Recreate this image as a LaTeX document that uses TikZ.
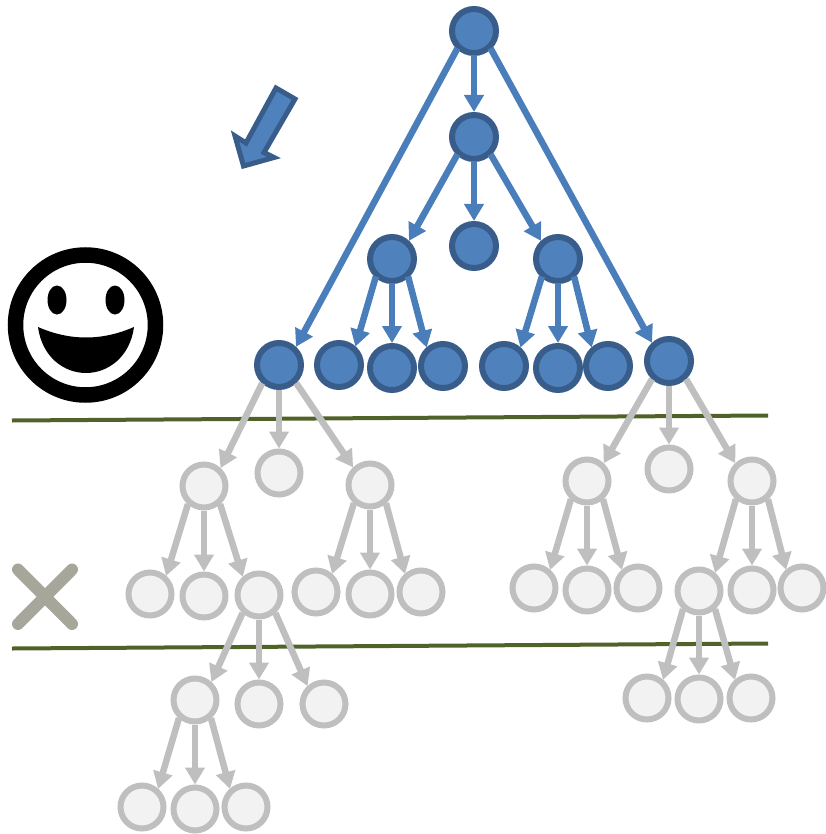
\documentclass[tikz,border=0pt]{standalone}
\usetikzlibrary{arrows.meta}
\definecolor{bfill}{HTML}{4F81BD}
\definecolor{bline}{HTML}{385D8A}
\definecolor{barrow}{HTML}{4A7EBB}
\definecolor{gline}{HTML}{BFBFBF}
\definecolor{gfill}{HTML}{F2F2F2}
\definecolor{rule}{HTML}{4F6228}
\definecolor{crossc}{HTML}{A6A69A}
\tikzset{
  bnode/.style={circle,draw=bline,fill=bfill,line width=6pt,minimum size=44pt,inner sep=0pt,outer sep=0pt},
  gnode/.style={circle,draw=gline,fill=gfill,line width=6pt,minimum size=43pt,inner sep=0pt,outer sep=0pt},
  barr/.style={draw=barrow,line width=6.5pt,-{Triangle[length=17pt,width=19pt]},shorten <=2pt,shorten >=3pt},
  garr/.style={draw=gline,line width=6.5pt,-{Triangle[length=17pt,width=19pt]},shorten <=3pt,shorten >=3pt},
  divider/.style={draw=rule,line width=4pt},
}
\begin{document}
\begin{tikzpicture}[x=1pt,y=-1pt]
\useasboundingbox (0,0) rectangle (825,834);
% big arrow
\draw[bline,line width=5pt,fill=bfill,miter limit=6] (276,88) -- (295,99) -- (264,152.5) -- (274,157.5) -- (243.5,166) -- (235,136) -- (246,143) -- cycle;
% smiley
\draw[black,line width=15.5pt] (85.5,325) circle (70);
\fill[black] (57,300) ellipse (9.5 and 14.5);
\fill[black] (115,300) ellipse (9.5 and 14.5);
\fill[black] (38,327) .. controls (70,341) and (102,341) .. (134,327) .. controls (130,357) and (108,373) .. (86,373) .. controls (64,373) and (42,357) .. (38,327) -- cycle;
% cross
\draw[crossc,line width=12pt,line cap=round] (18,569.5) -- (72,624);
\draw[crossc,line width=12pt,line cap=round] (72,569.5) -- (18,624);
% dividers
\coordinate (l1a) at (12,420.5); \coordinate (l1b) at (768,415.5);
\coordinate (l2a) at (12,648.5); \coordinate (l2b) at (768,643.5);
\draw[divider] (l1a) -- (l1b);
\draw[divider] (l2a) -- (l2b);
% blue nodes
\foreach \n/\x/\y in {r/474/31,a/474/137,b1/392/259,b2/474/246,b3/558/259,c1/279/365,c2/339/365,c3/392/368,c4/443/366,c5/504/366,c6/558/368,c7/608/366,c8/669/361}
  \node[bnode] (\n) at (\x,\y) {};
% grey nodes
\foreach \n/\x/\y in {d1/204/486,d2/279/473,d3/370/485,e1/150/594,e2/204/596,e3/259/595,e4/316/592,e5/370/594,e6/421/592,f1/195/700,f2/259/704,f3/324/704,g1/142/807,g2/195/809,g3/246/807,h1/587/481,h2/669/469,h3/752/481,i1/534/588,i2/587/590,i3/638/588,i4/699/591,i5/752/590,i6/802/588,j1/647/698,j2/699/699,j3/751/698}
  \node[gnode] (\n) at (\x,\y) {};
% blue connectors
\foreach \s/\t/\u/\v in {r/a/-90/90,r/c1/225/45,r/c8/-45/135,a/b1/225/45,a/b2/-90/90,a/b3/-45/135,b1/c2/225/45,b1/c3/-90/90,b1/c4/-45/135,b3/c5/225/45,b3/c6/-90/90,b3/c7/-45/135}
  \draw[barr] (\s.\u) -- (\t.\v);
% grey connectors
\foreach \s/\t/\u/\v in {c1/d1/225/45,c1/d2/-90/90,c1/d3/-45/135,d1/e1/225/45,d1/e2/-90/90,d1/e3/-45/135,d3/e4/225/45,d3/e5/-90/90,d3/e6/-45/135,e3/f1/225/45,e3/f2/-90/90,e3/f3/-45/135,f1/g1/225/45,f1/g2/-90/90,f1/g3/-45/135,c8/h1/225/45,c8/h2/-90/90,c8/h3/-45/135,h1/i1/225/45,h1/i2/-90/90,h1/i3/-45/135,h3/i4/225/45,h3/i5/-90/90,h3/i6/-45/135,i4/j1/225/45,i4/j2/-90/90,i4/j3/-45/135}
  \draw[garr] (\s.\u) -- (\t.\v);
\end{tikzpicture}
\end{document}
